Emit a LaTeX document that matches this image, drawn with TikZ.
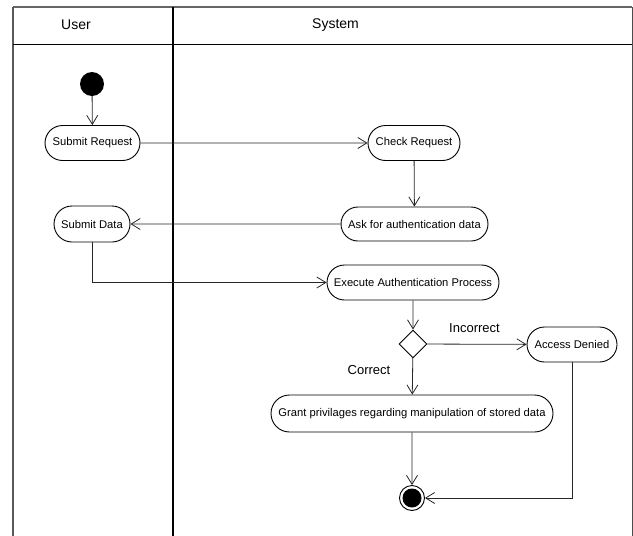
\documentclass[tikz,border=0pt]{standalone}
\usepackage{fontspec}
\setmainfont{Liberation Sans}
\usetikzlibrary{arrows.meta,shapes.misc,shapes.geometric}
\begin{document}
\begin{tikzpicture}[x=1pt,y=-1pt,
  action/.style={rounded rectangle, draw=black, line width=0.9pt, fill=white,
    inner sep=0pt, minimum height=35pt, font=\fontsize{11.2}{13}\selectfont},
  flow/.style={draw=black!85, line width=0.8pt,
    -{Straight Barb[length=9pt,width=11pt,line width=0.8pt]}},
  lanehead/.style={font=\fontsize{14}{16}\selectfont},
  guardlbl/.style={font=\fontsize{13}{15}\selectfont}]
  \useasboundingbox (0,0) rectangle (633,536);

  % swimlane frame
  \draw[black!60, line width=1.8pt] (13,7) -- (632,7);
  \draw[black!65, line width=1.4pt] (13,7) -- (13,536);
  \draw[black!70, line width=1pt] (632,7) -- (632,536);
  \draw[black, line width=1.8pt] (13,44.5) -- (632,44.5);
  \draw[black, line width=1.8pt] (173,7) -- (173,536);
  \node[lanehead] (huser) at (76,25) {User};
  \node[lanehead] (hsys) at (335.5,25) {System};

  % activities
  \node[circle, fill=black, inner sep=0pt, minimum size=24pt] (start) at (92,84) {};
  \node[action, minimum width=95pt] (submitreq) at (92.5,143) {Submit Request};
  \node[action, minimum width=92pt] (checkreq) at (414,143) {Check Request};
  \node[action, minimum width=147pt, minimum height=34pt] (askauth) at (414.5,224) {Ask for authentication data};
  \node[action, minimum width=76pt, minimum height=36pt] (submitdata) at (92,224) {Submit Data};
  \node[action, minimum width=172pt] (execauth) at (413,282.5) {Execute Authentication Process};
  \node[diamond, draw=black, line width=0.9pt, fill=white, inner sep=0pt,
        minimum width=28pt, minimum height=28pt] (decide) at (413,344) {};
  \node[action, minimum width=90pt] (denied) at (572,344.5) {Access Denied};
  \node[action, minimum width=282pt, minimum height=37pt] (grant) at (412,413.5)
    {Grant privilages regarding manipulation of stored data};
  \node[circle, draw=black, line width=0.9pt, fill=white, inner sep=0pt, minimum size=25pt] (finish) at (412,498) {};
  \node[circle, fill=black, inner sep=0pt, minimum size=19pt] (finishdot) at (finish) {};

  % guard labels
  \node[guardlbl] (lblinc) at (474.5,328) {Incorrect};
  \node[guardlbl] (lblcor) at (369,370) {Correct};

  % control flow
  \draw[flow] (start) -- (submitreq);
  \draw[flow] (submitreq) -- (checkreq);
  \draw[flow] (checkreq) -- (askauth);
  \draw[flow] (askauth) -- (submitdata);
  \draw[flow] (submitdata) |- (execauth);
  \draw[flow] (execauth) -- (decide);
  \draw[flow] (decide) -- (denied);
  \draw[flow] (decide) -- (grant);
  \draw[flow] (grant) -- (finish);
  \draw[flow] (denied) |- (finish);
\end{tikzpicture}
\end{document}
